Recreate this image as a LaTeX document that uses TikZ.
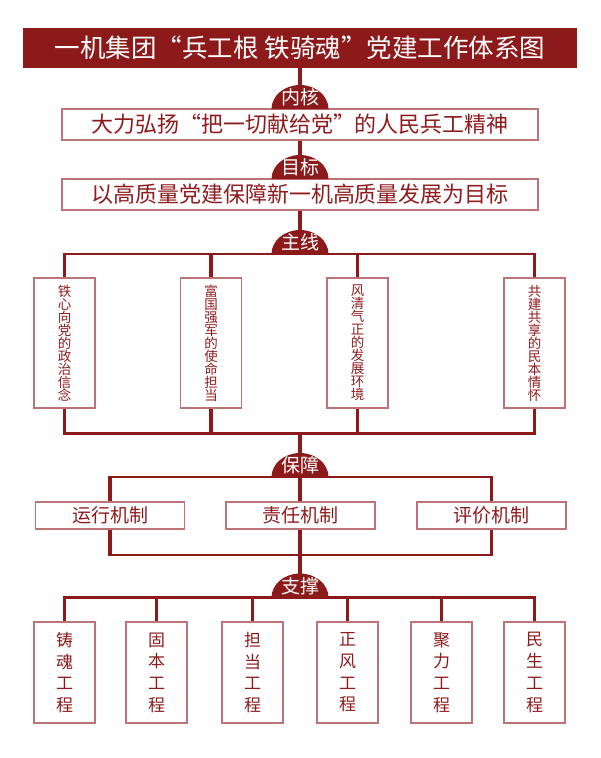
\documentclass[tikz,border=0pt]{standalone}
\usepackage{fontspec}
\setmainfont{Noto Sans CJK SC}
\usetikzlibrary{calc,backgrounds}
\definecolor{PartyRed}{HTML}{8C1A1B}
\definecolor{PartyRedText}{HTML}{8E1C1E}
\definecolor{PartyRedLine}{HTML}{BC7375}

\begin{document}
\begin{tikzpicture}[x=1pt,y=-1pt,
    titlebar/.style={fill=PartyRed,text=white,minimum width=554pt,minimum height=40pt,inner sep=0pt,font=\fontsize{25.5}{27}\selectfont},
    tagtext/.style={text=white,inner sep=0pt,font=\fontsize{19}{20}\selectfont},
    framebox/.style={draw=PartyRedLine,line width=1.2pt,fill=white,text=PartyRedText,inner sep=0pt,align=center},
    widebox/.style={framebox,minimum width=476pt,minimum height=31pt,font=\fontsize{22}{24}\selectfont},
    linebox/.style={framebox,minimum width=61pt,minimum height=130pt,font=\fontsize{13.5}{13}\selectfont},
    mechbox/.style={framebox,minimum width=149pt,minimum height=27pt,font=\fontsize{19}{20}\selectfont},
    projbox/.style={framebox,minimum width=61pt,minimum height=101pt,font=\fontsize{17}{21.7}\selectfont},
    trunk/.style={draw=PartyRed,line width=3.6pt},
    drop/.style={draw=PartyRed,line width=3.6pt},
    bar/.style={draw=PartyRed,line width=2.2pt,shorten <=-1.8pt,shorten >=-1.8pt}]
  \useasboundingbox (0,0) rectangle (600,758);

  % title and the two wide boxes
  \node[titlebar] (title) at (300,48) {一机集团“兵工根 铁骑魂”党建工作体系图};
  \node[widebox] (coreBox) at (300,124.5) {大力弘扬“把一切献给党”的人民兵工精神};
  \node[widebox] (goalBox) at (300,194.5) {以高质量党建保障新一机高质量发展为目标};

  % hubs under the tags
  \coordinate (coreHub) at (300,109);
  \coordinate (goalHub) at (300,179);
  \coordinate (mainHub) at (300,254);
  \coordinate (lineHub) at (300,433.5);
  \coordinate (guardHub) at (300,477);
  \coordinate (guardBase) at (300,555);
  \coordinate (propHub) at (300,597.5);

  % main lines
  \node[linebox] (m1) at (64.5,343) {铁\\心\\向\\党\\的\\政\\治\\信\\念};
  \node[linebox] (m2) at (211,343) {富\\国\\强\\军\\的\\使\\命\\担\\当};
  \node[linebox] (m3) at (357.5,343) {风\\清\\气\\正\\的\\发\\展\\环\\境};
  \node[linebox] (m4) at (534.5,343) {共\\建\\共\\享\\的\\民\\本\\情\\怀};

  % mechanisms
  \node[mechbox] (g1) at (110,515.5) {运行机制};
  \node[mechbox] (g2) at (300.5,515.5) {责任机制};
  \node[mechbox] (g3) at (491.5,515.5) {评价机制};

  % projects
  \node[projbox] (s1) at (64.5,672.5) {铸\\魂\\工\\程};
  \node[projbox] (s2) at (156.5,672.5) {固\\本\\工\\程};
  \node[projbox] (s3) at (252.5,672.5) {担\\当\\工\\程};
  \node[projbox] (s4) at (347.5,672.5) {正\\风\\工\\程};
  \node[projbox] (s5) at (441.5,672.5) {聚\\力\\工\\程};
  \node[projbox] (s6) at (534.5,672.5) {民\\生\\工\\程};

  \begin{scope}[on background layer]
    \draw[trunk] (title.south) -- (coreBox.north);
    \draw[trunk] (coreBox.south) -- (goalBox.north);
    \draw[trunk] (goalBox.south) -- (mainHub);
    \draw[trunk] (lineHub) -- (propHub);
    \foreach \b in {m1,m2,m3,m4} {
      \draw[drop] (\b.north) -- (\b.north |- mainHub);
      \draw[drop] (\b.south) -- (\b.south |- lineHub);
    }
    \draw[bar] (m1.north |- mainHub) -- (m4.north |- mainHub);
    \draw[bar] (m1.south |- lineHub) -- (m4.south |- lineHub);
    \draw[bar] (g1 |- guardHub) -- (g3 |- guardHub);
    \draw[bar] (g1 |- guardBase) -- (g3 |- guardBase);
    \draw[drop] (g1 |- guardHub) -- (g1 |- guardBase);
    \draw[drop] (g3 |- guardHub) -- (g3 |- guardBase);
    \foreach \b in {s1,s2,s3,s4,s5,s6}
      \draw[drop] (\b.north) -- (\b.north |- propHub);
    \draw[bar] (s1.north |- propHub) -- (s6.north |- propHub);
  \end{scope}

  % tags
  \foreach \hub/\lab in {coreHub/内核,goalHub/目标,mainHub/主线,guardHub/保障,propHub/支撑} {
    \fill[PartyRed] ($(\hub)+(-28.5,0)$) .. controls +(0,-13.2) and +(-15.7,0) .. ($(\hub)+(0,-24)$)
      .. controls +(15.7,0) and +(0,-13.2) .. ($(\hub)+(28.5,0)$) -- cycle;
    \node[tagtext] (tag-\hub) at ($(\hub)+(0,-11.5)$) {\lab};
  }
\end{tikzpicture}
\end{document}
